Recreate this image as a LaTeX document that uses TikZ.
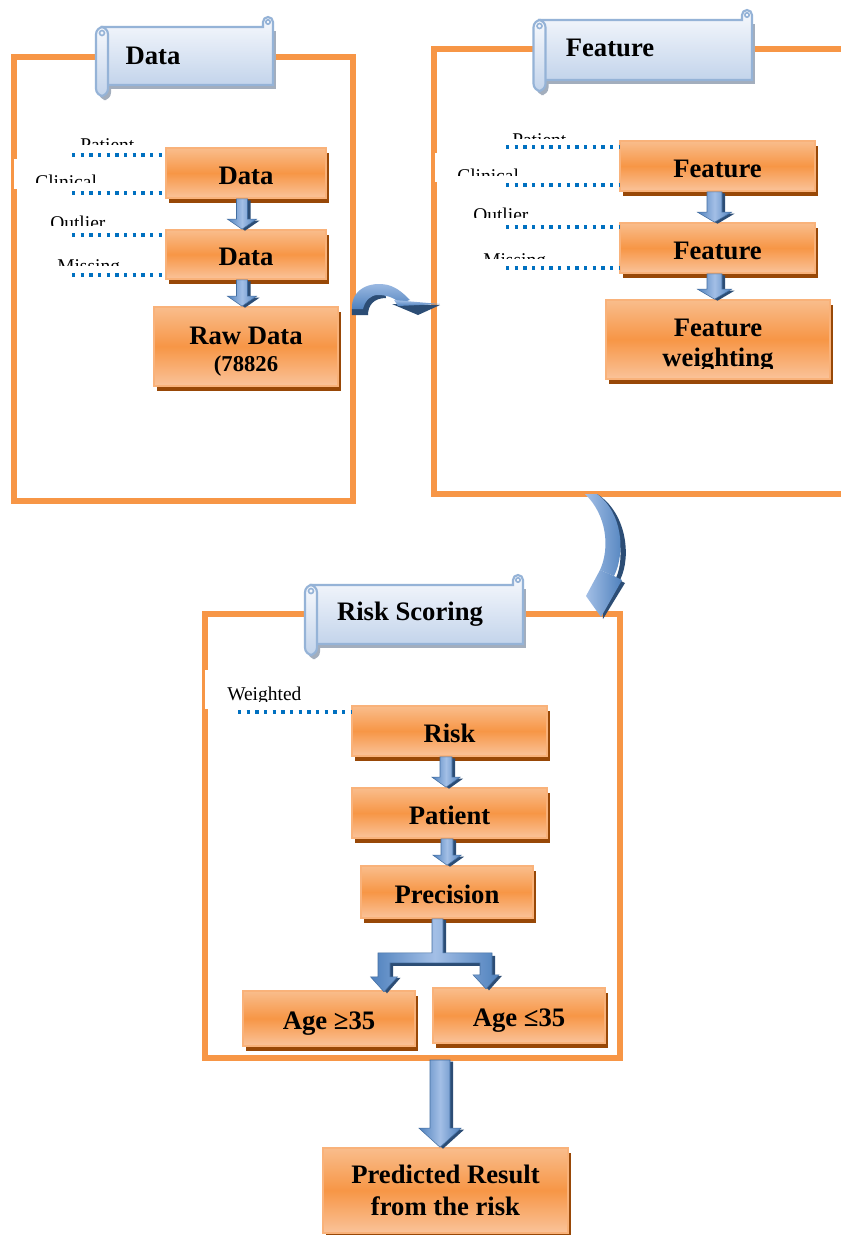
\documentclass[tikz,border=0pt]{standalone}
\usepackage{fontspec}
\setmainfont{Liberation Serif}
\usetikzlibrary{calc,shadows}

\definecolor{frameorange}{HTML}{F79646}
\definecolor{boxtop}{HTML}{F9BD8C}
\definecolor{boxmid}{HTML}{F79646}
\definecolor{boxbot}{HTML}{FAC39A}
\definecolor{boxedge}{HTML}{F9B27A}
\definecolor{boxshadow}{HTML}{984807}
\definecolor{dotblue}{HTML}{0070C0}
\definecolor{arrowblue}{HTML}{4F81BD}
\definecolor{arrowlight}{HTML}{A3BFE6}
\definecolor{arrowdark}{HTML}{2C4D75}
\definecolor{scrolledge}{HTML}{95B3D7}
\definecolor{scrolltop}{HTML}{F7F9FD}
\definecolor{scrollbot}{HTML}{C3D4EB}
\definecolor{scrollshadow}{HTML}{A3AEBD}

\tikzset{
  boxsize/.style 2 args={minimum width=#1*0.75pt, minimum height=#2*0.75pt},
  panel/.style={draw=frameorange, line width=3.8pt, inner sep=0pt},
  stepbox/.style={draw=boxedge, line width=1.2pt, top color=boxtop, bottom color=boxbot,
    middle color=boxmid, general shadow={fill=boxshadow, shadow xshift=2.4pt, shadow yshift=-3.8pt},
    inner sep=0pt, align=center, font=\bfseries\fontsize{20}{22.5}\selectfont},
  oneline/.style={text height=18pt, text depth=1.5pt},
  boxtext/.style={inner sep=0pt, align=center, font=\bfseries\fontsize{20}{22.5}\selectfont},
  feed/.style={draw=dotblue, line width=2.6pt, dash pattern=on 2.6pt off 3.9pt},
  smalllabel/.style={inner sep=0pt, anchor=base west, font=\fontsize{14.6}{17}\selectfont},
  blockfill/.style={left color=arrowblue, right color=arrowblue, middle color=arrowlight,
    draw=arrowblue!85!black, line width=0.4pt},
  blockshadow/.style={fill=arrowdark},
  scrollface/.style={top color=scrolltop, bottom color=scrollbot, draw=scrolledge, line width=1.6pt},
  scrollline/.style={draw=scrolledge, line width=1.2pt},
  scrolltext/.style={inner sep=0pt, font=\bfseries\fontsize{20}{22.5}\selectfont},
}

% straight block arrow from coordinate (ba) down to coordinate (bb)
% #1 dx, #2 dy, #3 half shaft width, #4 half head width, #5 head length
\newcommand{\blockpath}[5]{%
  ($(ba)+(-#3+#1,#2)$) -- ($(ba)+(#3+#1,#2)$) -- ($(bb)+(#3+#1,-#5+#2)$) --
  ($(bb)+(#4+#1,-#5+#2)$) -- ($(bb)+(#1,#2)$) -- ($(bb)+(-#4+#1,-#5+#2)$) --
  ($(bb)+(-#3+#1,-#5+#2)$) -- cycle}
% #1 start point, #2 target anchor, #3 half shaft, #4 half head, #5 head length
\newcommand{\downblock}[5]{%
  \coordinate (ba) at (#1);
  \coordinate (bb) at (ba|-#2);
  \fill[blockshadow] \blockpath{3}{1.5}{#3}{#4}{#5};
  \path[blockfill] \blockpath{0}{0}{#3}{#4}{#5};
}

% horizontal scroll banner: name, x1, y1, x2, y2, text x, text y, text
\newcommand{\scrollbanner}[8]{%
  \fill[scrollshadow] (#2+3,#3+4) rectangle (#4+3,#5+4);
  \fill[scrollshadow, rounded corners=5.5] (#2-6+3,#3+4) rectangle (#2+6+3,#5+11+4);
  \path[scrollface] (#2,#3) -- (#4-10,#3) -- (#4-10,#3-5)
     arc[start angle=180,end angle=360,radius=5] -- (#4,#5) -- (#2,#5) -- cycle;
  \draw[scrollline] (#4-5,#3-5) circle[radius=2.2];
  \path[scrollface, rounded corners=5.5] (#2-6,#3) rectangle (#2+6,#5+11);
  \draw[scrollline] (#2,#3+6) circle[radius=2.5];
  \node[scrolltext] (#1) at (#6,#7) {#8};
}

\begin{document}
\begin{tikzpicture}[x=0.75pt,y=-0.75pt]
\useasboundingbox (0,0) rectangle (841,1235);
\clip (0,0) rectangle (841,1235);
\fill[white] (0,0) rectangle (841,1235);

% ---------- panel frames ----------
\node[panel, boxsize={339}{444}] (p1) at (183.5,279) {};
\node[panel, boxsize={426}{445}] (p2) at (647,271.5) {};
\node[panel, boxsize={415}{444}] (p3) at (412.5,836) {};

% white backgrounds of the side label boxes
\fill[white] (14,159) rectangle (60,189);
\fill[white] (434.5,153) rectangle (480,182);
\fill[white] (205,670) rectangle (236,709);

% ---------- banners ----------
\scrollbanner{tData}{102}{27}{273}{85}{153}{56}{Data}
\scrollbanner{tFeature}{539.5}{20}{752}{80}{610}{48}{Feature}
\scrollbanner{tRisk}{311}{585}{523}{644}{410}{614}{Risk Scoring}

% ---------- data panel ----------
\node[stepbox, oneline, boxsize={160}{50}] (d1) at (246,173) {Data};
\node[stepbox, oneline, boxsize={160}{49}] (d2) at (246,254.5) {Data};
\node[stepbox, boxsize={184}{79}] (raw) at (246,346.5) {};
\node[boxtext] (rawt) at (246,352)
  {Raw Data\\[-2pt]{\fontsize{17}{20}\selectfont(78826}};

\downblock{$(d1.south)+(-4,0)$}{d2.north}{5.5}{14.5}{10}
\downblock{$(d2.south)+(-4,0)$}{raw.north}{5.5}{14.5}{10}

\coordinate (a1) at (72,155);
\coordinate (a2) at (72,193);
\coordinate (a3) at (72,235);
\coordinate (a4) at (72,275);
\draw[feed] (a1) -- (a1-|d1.west);
\draw[feed] (a2) -- (a2-|d1.west);
\draw[feed] (a3) -- (a3-|d2.west);
\draw[feed] (a4) -- (a4-|d2.west);

\begin{scope}
  \clip (20,120) rectangle (170,144);
  \node[smalllabel] (lp1) at (80,151) {Patient};
\end{scope}
\begin{scope}
  \clip (20,160) rectangle (170,182);
  \node[smalllabel] (lc1) at (35,188) {Clinical};
\end{scope}
\begin{scope}
  \clip (20,200) rectangle (170,225);
  \node[smalllabel] (lo1) at (50,229) {Outlier};
\end{scope}
\begin{scope}
  \clip (20,245) rectangle (170,265);
  \node[smalllabel] (lm1) at (57,272) {Missing};
\end{scope}

% ---------- feature panel ----------
\node[stepbox, oneline, boxsize={195}{50}] (f1) at (717.5,166) {Feature};
\node[stepbox, oneline, boxsize={195}{50}] (f2) at (717.5,248) {Feature};
\node[stepbox, boxsize={224}{79}] (fw) at (718,339.5) {};
\begin{scope}
  \clip (606,300) rectangle (830,368);
  \node[boxtext] (fwt) at (718,346) {Feature\\weighting};
\end{scope}

\downblock{$(f1.south)+(-3,0)$}{f2.north}{7.5}{17}{10}
\downblock{$(f2.south)+(-3,0)$}{fw.north}{7.5}{17}{10}

\coordinate (b1) at (506,147);
\coordinate (b2) at (506,185);
\coordinate (b3) at (506,227);
\coordinate (b4) at (506,268);
\draw[feed] (b1) -- (b1-|f1.west);
\draw[feed] (b2) -- (b2-|f1.west);
\draw[feed] (b3) -- (b3-|f2.west);
\draw[feed] (b4) -- (b4-|f2.west);

\begin{scope}
  \clip (440,115) rectangle (610,138);
  \node[smalllabel] (lp2) at (512,146) {Patient};
\end{scope}
\begin{scope}
  \clip (440,155) rectangle (610,175);
  \node[smalllabel] (lc2) at (457,182) {Clinical};
\end{scope}
\begin{scope}
  \clip (440,195) rectangle (610,217);
  \node[smalllabel] (lo2) at (473,221) {Outlier};
\end{scope}
\begin{scope}
  \clip (440,240) rectangle (610,258);
  \node[smalllabel] (lm2) at (483,266) {Missing};
\end{scope}

% ---------- risk scoring panel ----------
\node[stepbox, oneline, boxsize={195}{50}] (risk) at (449.5,731) {Risk};
\node[stepbox, oneline, boxsize={195}{50}] (pat) at (449.5,813) {Patient};
\node[stepbox, oneline, boxsize={172}{52}] (prec) at (447,892) {Precision};
\node[stepbox, oneline, boxsize={172}{55}] (age1) at (329,1018.5) {Age ≥35};
\node[stepbox, oneline, boxsize={172}{55}] (age2) at (519,1015.5) {Age ≤35};

\downblock{$(risk.south)+(-3.5,0)$}{pat.north}{6}{14}{10}
\downblock{$(pat.south)+(-2.5,0)$}{prec.north}{6}{14}{10}

\coordinate (c1) at (238,712);
\draw[feed] (c1) -- (c1-|risk.west);
\begin{scope}
  \clip (210,670) rectangle (340,701);
  \node[smalllabel] (lw) at (227,700) {Weighted};
\end{scope}

% split arrow from Precision to both age groups
\coordinate (fk) at ($(prec.south)+(-9.5,0)$);
\fill[blockshadow] ($(fk)+(-2.5,1)$) -- ($(fk)+(8.5,1)$) -- ($(fk)+(8.5,37)$) -- ($(fk)+(57.5,37)$) --
  ($(fk)+(57.5,57)$) -- ($(fk)+(64.5,57)$) -- ($(fk)+(51.5,71.5)$) -- ($(fk)+(38.5,57)$) --
  ($(fk)+(45.5,57)$) -- ($(fk)+(45.5,47)$) -- ($(fk)+(-44.5,47)$) -- ($(fk)+(-44.5,59)$) --
  ($(fk)+(-37,59)$) -- ($(fk)+(-50.5,74.5)$) -- ($(fk)+(-64,59)$) -- ($(fk)+(-56.5,59)$) --
  ($(fk)+(-56.5,37)$) -- ($(fk)+(-2.5,37)$) -- cycle;
\path[blockfill] ($(fk)+(-5.5,0)$) -- ($(fk)+(5.5,0)$) -- ($(fk)+(5.5,34)$) -- ($(fk)+(54.5,34)$) --
  ($(fk)+(54.5,56)$) -- ($(fk)+(61.5,56)$) -- ($(fk)+(48.5,70)$) -- ($(fk)+(35.5,56)$) --
  ($(fk)+(42.5,56)$) -- ($(fk)+(42.5,44)$) -- ($(fk)+(-47.5,44)$) -- ($(fk)+(-47.5,58)$) --
  ($(fk)+(-40,58)$) -- ($(fk)+(-53.5,73)$) -- ($(fk)+(-67,58)$) -- ($(fk)+(-59.5,58)$) --
  ($(fk)+(-59.5,34)$) -- ($(fk)+(-5.5,34)$) -- cycle;

% ---------- result ----------
\node[stepbox, boxsize={245}{85}, font=\bfseries\fontsize{20}{24}\selectfont] (pred) at (445.5,1190.5)
  {Predicted Result\\from the risk};
\downblock{440,1060}{pred.north}{10}{21}{19}

% ---------- curved arrows between panels ----------
% data -> feature
\fill[arrowdark] (352,315) .. controls (350,295) and (366,284) .. (384,286) -- (386,298)
  .. controls (374,298) and (368,305) .. (368,315) -- cycle;
\path[top color=arrowlight, bottom color=arrowblue] (352,309) .. controls (351,289) and (370,281) .. (388,285)
  .. controls (398,288) and (404,294) .. (410,300) -- (400,303) .. controls (393,297) and (386,295) .. (378,295)
  .. controls (370,295) and (365,301) .. (363,309) -- cycle;
\fill[arrowdark] (392,304) -- (440,305) -- (418,315) -- cycle;
\path[top color=arrowlight, bottom color=arrowblue] (394,300) -- (440,304) -- (398,306) -- cycle;

% feature -> risk scoring
\fill[arrowdark] (597,494) .. controls (626,512) and (632,556) .. (620,580) -- (616,578)
  .. controls (626,556) and (620,515) .. (593,496) -- cycle;
\path[left color=arrowlight, right color=arrowblue] (585,494) -- (597,494)
  .. controls (622,512) and (626,552) .. (614,576) -- (600,570)
  .. controls (610,548) and (607,515) .. (585,494) -- cycle;
\fill[arrowdark] (601,571) -- (625,583) -- (603,619) -- cycle;
\path[left color=arrowlight, right color=arrowblue] (600,570) -- (586,596) -- (601,617) -- (622,580)
  -- (614,576) -- cycle;

\end{tikzpicture}
\end{document}
